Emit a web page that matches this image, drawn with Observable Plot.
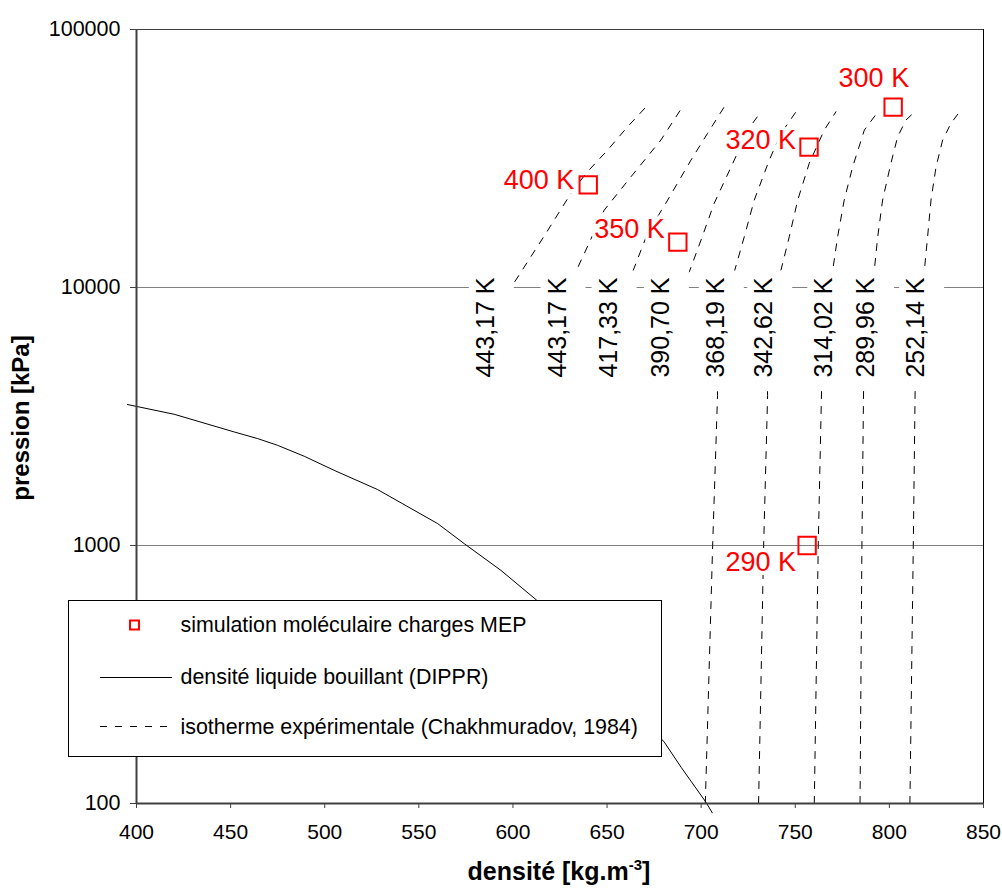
<!DOCTYPE html>
<html>
<head>
<meta charset="utf-8">
<script src="https://cdn.jsdelivr.net/npm/d3@7"></script>
<script src="https://cdn.jsdelivr.net/npm/@observablehq/plot@0.6"></script>
<style>
  html, body { margin: 0; padding: 0; background: #fff; }
  #chart svg { display: block; }
</style>
</head>
<body>
<div id="chart"></div>
<script>
// Axis ticks
const densityTicks = [400, 450, 500, 550, 600, 650, 700, 750, 800, 850];
const pressureTicks = [100, 1000, 10000, 100000];

// Boiling liquid density (DIPPR): density [kg/m3] vs pressure [kPa]
const dipprDensity  = [395.2, 420.0, 451.9, 464.3, 474.9, 489.1, 505.0, 528.1, 560.0, 574.1, 593.6, 612.7, 650.0, 680.4, 689.4, 702.6, 705.9];
const dipprPressure = [3519, 3226, 2755, 2597, 2446, 2218, 1956, 1647, 1216, 1017, 801, 613, 300, 173, 138, 101, 92];

// Experimental isotherms (Chakhmuradov, 1984)
const isoLabels = ["443,17 K", "443,17 K", "417,33 K", "390,70 K", "368,19 K", "342,62 K", "314,02 K", "289,96 K", "252,14 K"];
// density of each isotherm at 10 MPa, where its label sits
const labelPressure = 10000;
const isoLabelDensity = [585.6, 623.7, 650.8, 678.6, 707.8, 733.5, 765.4, 787.6, 814.2];
// branch below 10 MPa
const isoLowerDensity = [[], [], [], [],
  [702.2, 706.1, 708.7], [730.5, 733.2, 735.3], [760.1, 762.2, 764.0], [784.4, 785.4, 786.3], [810.9, 812.7, 813.7]];
const isoLowerPressure = [[], [], [], [],
  [100, 1000, 3820], [100, 1000, 3820], [100, 1000, 4120], [100, 1000, 4120], [100, 1000, 4120]];
// branch above 10 MPa
const isoUpperDensity = [
  [600.7, 617.5, 630.8, 638.8, 650.3, 660.9, 670.8],
  [633.4, 648.5, 662.7, 678.6, 690.1],
  [663.6, 671.5, 682.2, 694.6, 703.4, 712.3],
  [693.7, 699.9, 706.9, 717.6, 724.7, 731.8],
  [717.6, 722.9, 728.2, 736.2, 742.4, 750.4],
  [742.4, 746.8, 751.3, 757.4, 765.4, 771.6],
  [769.9, 772.5, 776.0, 780.5, 786.7, 794.6],
  [792.0, 793.8, 796.4, 800.8, 804.4, 808.8, 814.1],
  [818.5, 820.3, 822.1, 824.8, 828.3, 832.7, 838.0]
];
const isoUpperPressure = [
  [10460, 16210, 23160, 27690, 34100, 41980, 50190],
  [11500, 19950, 26860, 37280, 50190],
  [11500, 16210, 21820, 31190, 39580, 50190],
  [11500, 15260, 21180, 31190, 40760, 48000],
  [11500, 15720, 21820, 31190, 39580, 48000],
  [11680, 15720, 21820, 30280, 40760, 48000],
  [11680, 15720, 21820, 29380, 40760, 48730],
  [11680, 15720, 21820, 30280, 38400, 44570, 48430],
  [11500, 15720, 21820, 29380, 37280, 43270, 48730]
];

// Molecular simulation (MEP charges)
const simLabels   = ["400 K", "350 K", "320 K", "300 K", "290 K"];
const simDensity  = [640, 687.6, 757.3, 802, 756.3];
const simPressure = [25000, 15000, 35000, 50000, 1000];

// ---- tables for the marks
const dippr = dipprDensity.map((d, i) => ({density: d, pressure: dipprPressure[i]}));

const isoRows = [];
isoLabels.forEach((label, i) => {
  isoLowerDensity[i].forEach((d, j) => isoRows.push({iso: i, density: d, pressure: isoLowerPressure[i][j]}));
  isoRows.push({iso: i, density: isoLabelDensity[i], pressure: labelPressure});
  isoUpperDensity[i].forEach((d, j) => isoRows.push({iso: i, density: d, pressure: isoUpperPressure[i][j]}));
});
const isoLabelRows = isoLabels.map((t, i) => ({text: t, density: isoLabelDensity[i], pressure: labelPressure}));

const sim = simLabels.map((t, i) => ({text: t, density: simDensity[i], pressure: simPressure[i]}));

// label placement around each simulation marker (pixels)
const simLabelOffset = {
  "400 K": [-14, -4],
  "350 K": [-13, -13],
  "320 K": [-13, -6.5],
  "300 K": [16, -29],
  "290 K": [-11, 17]
};

// white box behind the isotherm labels
const labelBox = { draw(ctx) { ctx.rect(-17, -17, 45, 115); } };

const font = "'Liberation Sans', Arial, Helvetica, sans-serif";

const simLabelMarks = sim.map(d => Plot.text([d], {
  x: "density", y: "pressure", text: "text",
  dx: simLabelOffset[d.text][0], dy: simLabelOffset[d.text][1],
  textAnchor: "end", lineAnchor: "middle",
  fill: "#ff0000", stroke: "white", strokeWidth: 8, strokeLinejoin: "round",
  fontSize: 27
}));

const chart = Plot.plot({
  width: 1002,
  height: 889,
  marginLeft: 136,
  marginRight: 19,
  marginTop: 29,
  marginBottom: 86,
  style: {fontFamily: font, fontSize: "21px", color: "#000", background: "#fff", overflow: "visible"},
  x: {domain: [densityTicks[0], densityTicks[densityTicks.length - 1]]},
  y: {type: "log", domain: [pressureTicks[0], pressureTicks[pressureTicks.length - 1]]},
  marks: [
    Plot.ruleY(pressureTicks.slice(1, -1), {stroke: "#808080", strokeWidth: 1}),
    Plot.ruleY(pressureTicks.slice(-1), {stroke: "#404040", strokeWidth: 1}),
    Plot.ruleX(densityTicks.slice(-1), {stroke: "#000", strokeWidth: 1}),
    Plot.line(isoRows, {x: "density", y: "pressure", z: "iso", stroke: "#000", strokeWidth: 1, strokeDasharray: "7,8"}),
    Plot.line(dippr, {x: "density", y: "pressure", stroke: "#000", strokeWidth: 1}),
    Plot.dot(isoLabelRows, {x: "density", y: "pressure", symbol: labelBox, r: 1, fill: "#fff", stroke: "none"}),
    Plot.text(isoLabelRows, {x: "density", y: "pressure", text: "text", rotate: -90, dy: 40,
      textAnchor: "middle", lineAnchor: "middle", fontSize: 25, fill: "#000"}),
    ...simLabelMarks,
    Plot.dot(sim, {x: "density", y: "pressure", symbol: "square", r: 9.8, stroke: "#ff0000", strokeWidth: 2, fill: "none"}),
    Plot.ruleX(densityTicks.slice(0, 1), {stroke: "#404040", strokeWidth: 2}),
    Plot.ruleY(pressureTicks.slice(0, 1), {stroke: "#404040", strokeWidth: 2}),
    Plot.axisX({ticks: densityTicks, tickSize: 5, tickPadding: 16, label: null, tickFormat: d => String(d), fontSize: 21, stroke: "#404040"}),
    Plot.axisY({ticks: pressureTicks, tickSize: 6, tickPadding: 10, label: null, tickFormat: d => String(d), fontSize: 21.5, stroke: "#404040"})
  ]
});

document.getElementById("chart").appendChild(chart);

// ---- axis titles and legend
const svg = d3.select(chart);

const xTitle = svg.append("text")
  .attr("x", 559).attr("y", 880)
  .attr("text-anchor", "middle")
  .attr("font-family", font).attr("font-weight", "bold").attr("font-size", 25).attr("fill", "#000");
xTitle.append("tspan").text("densité [kg.m");
xTitle.append("tspan").attr("dy", -10).attr("font-size", 15).text("-3");
xTitle.append("tspan").attr("dy", 10).text("]");

svg.append("text")
  .attr("transform", "translate(29,418) rotate(-90)")
  .attr("text-anchor", "middle")
  .attr("font-family", font).attr("font-weight", "bold").attr("font-size", 24).attr("fill", "#000")
  .text("pression [kPa]");

const legend = svg.append("g")
  .attr("font-family", font).attr("font-size", 21.4).attr("text-anchor", "start");
legend.append("rect")
  .attr("x", 68.5).attr("y", 600.5).attr("width", 593).attr("height", 156)
  .attr("fill", "#fff").attr("stroke", "#000").attr("stroke-width", 1);
legend.append("rect")
  .attr("x", 130).attr("y", 620.5).attr("width", 9).attr("height", 9)
  .attr("fill", "none").attr("stroke", "#ff0000").attr("stroke-width", 2);
legend.append("line")
  .attr("x1", 100).attr("x2", 172).attr("y1", 677.5).attr("y2", 677.5)
  .attr("stroke", "#000").attr("stroke-width", 1);
legend.append("line")
  .attr("x1", 100).attr("x2", 172).attr("y1", 726.5).attr("y2", 726.5)
  .attr("stroke", "#000").attr("stroke-width", 1).attr("stroke-dasharray", "7,8");
[["simulation moléculaire charges MEP", 625],
 ["densité liquide bouillant (DIPPR)", 677],
 ["isotherme expérimentale (Chakhmuradov, 1984)", 726.5]].forEach(([t, y]) => {
  legend.append("text")
    .attr("x", 180.5).attr("y", y).attr("dy", "0.35em")
    .attr("text-anchor", "start").attr("fill", "#000").text(t);
});
</script>
</body>
</html>
